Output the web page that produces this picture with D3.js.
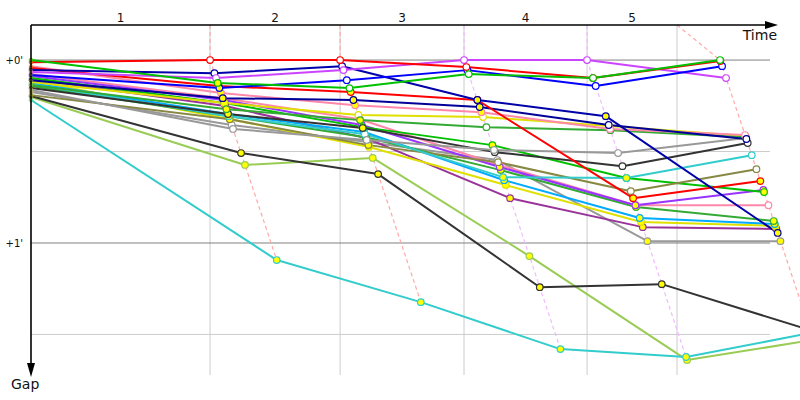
<!DOCTYPE html>
<html>
<head>
<meta charset="utf-8">
<script src="https://cdn.jsdelivr.net/npm/d3@7/dist/d3.min.js"></script>
<style>
  html, body { margin: 0; padding: 0; background: #fff; }
  svg { display: block; font-family: "DejaVu Sans", Verdana, sans-serif; }
  .lap-label { font-size: 12px; fill: #111; }
  .gap-label { font-size: 10px; fill: #111; }
</style>
</head>
<body>
<div id="chart"></div>
<script>
/* Race gap chart: gap to leader (seconds) vs race time (seconds), 5 laps. */

/* ---- data --------------------------------------------------------------- */
const LAP_LABELS   = ['1', '2', '3', '4', '5'];
const LAP_LEADER_T = [176.1, 304.0, 425.9, 546.9, 677.7];   // leader crossing time
const LAP_MARK_T   = [176.1, 304.0, 425.9, 546.9, 635.4];   // grid line time
const LAP_DASH     = ['#ffaaaa', '#ffaaaa', '#f0bbff', '#f0bbff', '#ffaaaa'];

const GAP_TICKS  = [0, 30, 60, 90];
const GAP_LABELS = { 0: "+0'", 60: "+1'" };

// first entry is drawn on top
const COLORS = [
  '#00c000', '#ff0000', '#0000ff', '#cc44ff', '#0000aa',
  '#ff0000', '#000099', '#ff88aa', '#33aa33', '#e0e000',
  '#999999', '#333333', '#33cccc', '#888844', '#00c000',
  '#9933ff', '#ff88aa', '#33aa33', '#00aaff', '#e0e000',
  '#993399', '#999999', '#333333', '#33cccc', '#99cc55',
];
const START_GAP = [
  0, 0.7, 4.9, 3.9, 3.3,
  2.6, 6.6, 2.0, 8.2, 7.2,
  9.8, 9.2, 7.9, 11.5, 5.9,
  5.2, 4.6, 8.5, 7.5, 6.6,
  6.2, 10.5, 11.8, 13.1, 12.1,
];
const LAP_GAPS = [
  [7.5, 9.2, 4.6, 5.9, 0],
  [0, 0, 2.3, 5.9, 0.3],
  [9.2, 6.6, 3.3, 8.5, 2.0],
  [5.9, 3.3, 0, 0, 5.9],
  [4.3, 2.0, 13.1, 18.4, 56.7],
  [8.5, 10.5, 13.1, 45.3, 39.7],
  [12.5, 13.1, 15.4, 21.3, 25.9],
  [10.8, 14.8, 17.1, 22.6, 24.6],
  [16.1, 19.7, 22.0, 23.0, 25.3],
  [14.1, 18.0, 18.7, 21.6, 24.9],
  [22.6, 26.2, 29.5, 30.5, 25.6],
  [17.7, 22.3, 30.2, 34.8, 27.2],
  [18.4, 24.3, 38.4, 38.7, 31.2],
  [19.4, 27.9, 33.5, 43.0, 35.8],
  [14.1, 22.0, 27.9, 38.7, 43.3],
  [13.1, 21.3, 35.1, 47.6, 42.6],
  [12.5, 19.4, 34.4, 47.6, 47.6],
  [18.4, 25.3, 36.1, 48.2, 52.8],
  [17.7, 23.6, 39.4, 51.8, 53.8],
  [19.4, 28.5, 41.0, 53.1, 54.4],
  [15.1, 25.6, 45.3, 54.8, 55.4],
  [21.3, 26.9, 32.8, 59.4, 59.4],
  [30.5, 37.4, 74.5, 73.5, 88.6],
  [65.6, 79.4, 94.8, 97.4, 89.5],
  [34.4, 32.1, 64.3, 98.4, 91.8],
];
// o = open (white) marker, y = yellow marker, one letter per lap
const FILLS = [
  'yoooo', 'ooooo', 'yoooo', 'ooooo', 'ooyyy',
  'yyyyy', 'yyyoo', 'yyyoo', 'yyooo', 'yoooo',
  'ooooo', 'yyooo', 'yoyyo', 'yyooo', 'yyyyy',
  'yyyyy', 'yyyyo', 'yyyyy', 'yyyyy', 'yyyyy',
  'yyyyy', 'oooyy', 'yyyyy', 'yyyyy', 'yyyyy',
];

/* ---- setup -------------------------------------------------------------- */
const W = 800, H = 400;
const x = d3.scaleLinear().domain([0, 734.7]).range([31, 778]);
const y = d3.scaleLinear().domain([-11.5, 103.3]).range([25, 375]);
const X_GRID_END = 770;

const svg = d3.select('#chart').append('svg')
  .attr('width', W).attr('height', H);

const series = COLORS.map((c, i) => {
  const pts = [{ t: 0, g: START_GAP[i], start: true }];
  LAP_GAPS[i].forEach((g, k) => {
    pts.push({ t: LAP_LEADER_T[k] + g, g, fill: FILLS[i][k] === 'o' ? '#fff' : '#ffff00' });
  });
  return { color: c, pts };
});

/* ---- grid --------------------------------------------------------------- */
const gGrid = svg.append('g');
gGrid.selectAll('line.v').data(LAP_MARK_T).enter().append('line')
  .attr('x1', d => x(d)).attr('x2', d => x(d))
  .attr('y1', y.range()[0]).attr('y2', y.range()[1])
  .attr('stroke', '#cccccc').attr('stroke-width', 1);

gGrid.selectAll('line.h').data(GAP_TICKS).enter().append('line')
  .attr('x1', x(0)).attr('x2', X_GRID_END)
  .attr('y1', d => y(d)).attr('y2', d => y(d))
  .attr('stroke', d => (d in GAP_LABELS) ? '#808080' : '#cccccc')
  .attr('stroke-width', 1);

svg.selectAll('text.gap-label').data(GAP_TICKS.filter(d => d in GAP_LABELS)).enter()
  .append('text').attr('class', 'gap-label')
  .attr('x', 23).attr('y', d => y(d) + 4)
  .attr('text-anchor', 'end')
  .text(d => GAP_LABELS[d]);

/* ---- lap dashed lines --------------------------------------------------- */
const line = d3.line().x(d => x(d.t)).y(d => y(d.g));

LAP_LEADER_T.forEach((lt, k) => {
  const pts = LAP_GAPS.map(gs => ({ t: lt + gs[k], g: gs[k] }))
    .sort((a, b) => a.g - b.g);
  pts.unshift({ t: LAP_MARK_T[k], g: y.domain()[0] });
  svg.append('path')
    .attr('d', line(pts))
    .attr('fill', 'none')
    .attr('stroke', LAP_DASH[k])
    .attr('stroke-width', 1.2)
    .attr('stroke-dasharray', '4,3');
});

/* ---- series ------------------------------------------------------------- */
const gLines = svg.append('g');
series.slice().reverse().forEach(s => {
  gLines.append('path')
    .attr('d', line(s.pts))
    .attr('fill', 'none')
    .attr('stroke', s.color)
    .attr('stroke-width', 2)
    .attr('stroke-linejoin', 'round');
});

const gDots = svg.append('g');
series.slice().reverse().forEach(s => {
  gDots.selectAll(null).data(s.pts).enter().append('circle')
    .attr('cx', d => x(d.t)).attr('cy', d => y(d.g))
    .attr('r', d => d.start ? 1.8 : 3.3)
    .attr('fill', d => d.start ? '#ffff00' : d.fill)
    .attr('stroke', s.color)
    .attr('stroke-width', d => d.start ? 0.8 : 1.2);
});

/* ---- axes --------------------------------------------------------------- */
const x0 = x.range()[0], yTop = y.range()[0], yBot = y.range()[1], xEnd = x.range()[1];
svg.append('line')
  .attr('x1', x0).attr('x2', xEnd - 10).attr('y1', yTop).attr('y2', yTop)
  .attr('stroke', '#000').attr('stroke-width', 1.6);
svg.append('path')
  .attr('d', `M${xEnd - 13},${yTop - 4}L${xEnd},${yTop}L${xEnd - 13},${yTop + 4}Z`)
  .attr('fill', '#000');
svg.append('line')
  .attr('x1', x0).attr('x2', x0).attr('y1', yTop).attr('y2', yBot - 8)
  .attr('stroke', '#000').attr('stroke-width', 1.6);
svg.append('path')
  .attr('d', `M${x0 - 4},${yBot - 12}L${x0},${yBot + 2}L${x0 + 4},${yBot - 12}Z`)
  .attr('fill', '#000');

svg.selectAll('text.lap-label').data(LAP_LABELS).enter()
  .append('text').attr('class', 'lap-label')
  .attr('x', (d, k) => x(((k ? LAP_MARK_T[k - 1] : 0) + LAP_MARK_T[k]) / 2))
  .attr('y', 22)
  .attr('text-anchor', 'middle')
  .text(d => d);

svg.append('text')
  .attr('x', xEnd - 1).attr('y', 40)
  .attr('text-anchor', 'end')
  .attr('font-size', 14).attr('fill', '#111')
  .text('Time');
svg.append('text')
  .attr('x', 11).attr('y', 389)
  .attr('font-size', 14).attr('fill', '#111')
  .text('Gap');
</script>
</body>
</html>
